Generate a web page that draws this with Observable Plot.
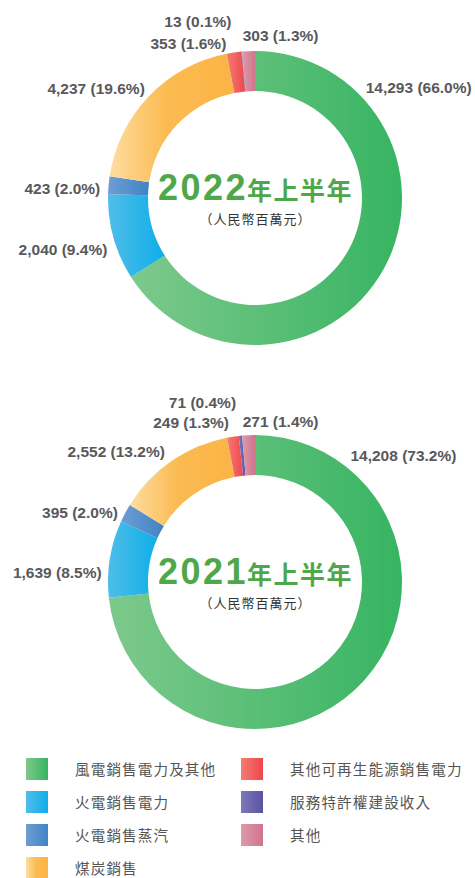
<!DOCTYPE html>
<html><head><meta charset="utf-8">
<script src="https://cdn.jsdelivr.net/npm/d3@7"></script>
<script src="https://cdn.jsdelivr.net/npm/@observablehq/plot@0.6"></script>
<style>
html,body{margin:0;padding:0;background:#fff;}
body{width:475px;font-family:"Liberation Sans","Noto Sans CJK TC",sans-serif;overflow:hidden;}
#legend{position:relative;height:138px;}
.lg-item{position:absolute;height:22px;}
.lg-sw{width:22px;height:22px;position:absolute;left:0;top:0;}
.lg-tx{position:absolute;top:11px;transform:translateY(-50%);line-height:1;white-space:nowrap;font-family:"Noto Sans CJK TC",sans-serif;font-size:14.6px;letter-spacing:1.1px;color:#555;}
</style></head><body>
<div id="c1"></div><div id="c2"></div><div id="legend"></div>
<script>
// ---- data ----
const categories = ["風電銷售電力及其他","火電銷售電力","火電銷售蒸汽","煤炭銷售","其他可再生能源銷售電力","服務特許權建設收入","其他"];
const values2022 = [14293, 2040, 423, 4237, 353, 13, 303];
const pct2022 = ["66.0", "9.4", "2.0", "19.6", "1.6", "0.1", "1.3"];
const values2021 = [14208, 1639, 395, 2552, 249, 71, 271];
const pct2021 = ["73.2", "8.5", "2.0", "13.2", "1.3", "0.4", "1.4"];
const titles = ["2022年上半年", "2021年上半年"];
const unitLabel = "（人民幣百萬元）";

// ---- styles ----
const gradStops = [
  [[0, "#7dc98c"], [1, "#37b462"]],
  [[0, "#50bde9"], [1, "#0eaee8"]],
  [[0, "#6e9dd3"], [1, "#3f84c5"]],
  [[0, "#fedda2"], [0.45, "#fbbb52"], [1, "#fbb445"]],
  [[0, "#f47d71"], [1, "#ef4550"]],
  [[0, "#7e79b9"], [1, "#5a53a3"]],
  [[0, "#dd9bac"], [1, "#d1738d"]]
];
const titleGreen = "#4ea84a";
const labelGray = "#58595b";
const INNER = 107 / 147;

// ---- layout (label nudges in px) ----
const layout1 = {cx: 255, cy: 198, R: 147, height: 365, tweaks: [
  {angle: 45, r: 1.06}, {dx: 2, dy: 10}, {dy: 4}, {dx: 2, dy: -2},
  {dx: -7}, {dx: -10, dy: -21}, {anchor: "start", dx: -6, dy: -7}
]};
const layout2 = {cx: 255, cy: 217, R: 147, height: 375, tweaks: [
  {angle: 37, r: 1.073}, {dy: 15}, {dy: 4}, {dx: -2, dy: -2},
  {dx: -3, dy: -5}, {dx: -4, dy: -24}, {anchor: "start", dx: -6, dy: -5}
]};

function addGradients(defs, prefix) {
  gradStops.forEach((stops, i) => {
    const lg = defs.append("linearGradient").attr("id", `${prefix}-g${i}`)
      .attr("x1", 0).attr("x2", 1).attr("y1", 0).attr("y2", 0);
    stops.forEach(([o, c]) => lg.append("stop").attr("offset", o).attr("stop-color", c));
  });
}

function ringMark(arcs, prefix) {
  return (index, scales) => {
    const x0 = scales.x(0), y0 = scales.y(0), r = scales.x(1) - x0;
    const arc = d3.arc().innerRadius(r * INNER).outerRadius(r);
    const g = d3.create("svg:g");
    addGradients(g.append("defs"), prefix);
    g.selectAll("path").data(arcs).join("path")
      .attr("transform", `translate(${x0},${y0})`)
      .attr("d", arc)
      .attr("fill", d => `url(#${prefix}-g${d.index})`);
    return g.node();
  };
}

function donut(el, values, pct, title, L, prefix) {
  const rows = categories.map((c, i) => ({cat: c, value: values[i],
    label: `${d3.format(",")(values[i])} (${pct[i]}%)`}));
  const arcs = d3.pie().sort(null).value(d => d.value)(rows);
  const labels = arcs.map((a, k) => {
    const t = L.tweaks[k] || {};
    const ang = t.angle != null ? t.angle * Math.PI / 180 : (a.startAngle + a.endAngle) / 2;
    const r = t.r ?? 1.06;
    const anchor = t.anchor ?? (Math.sin(ang) >= 0 ? "start" : "end");
    return {label: a.data.label, anchor,
      x: Math.sin(ang) * r + (t.dx ?? 0) / L.R,
      y: Math.cos(ang) * r - (t.dy ?? 0) / L.R};
  });
  const labelOpts = {x: "x", y: "y", text: "label", fontSize: 15.5, fontWeight: "bold",
    fill: labelGray, fontFamily: "Liberation Sans, sans-serif"};
  const center = [{x: 0, y: 0}];
  const svg = Plot.plot({
    width: 475, height: L.height, margin: 0,
    style: {background: "transparent", overflow: "visible"},
    x: {domain: [-1, 1], range: [L.cx - L.R, L.cx + L.R], axis: null},
    y: {domain: [-1, 1], range: [L.cy + L.R, L.cy - L.R], axis: null},
    marks: [
      ringMark(arcs, prefix),
      Plot.text(labels.filter(d => d.anchor === "start"), {...labelOpts, textAnchor: "start"}),
      Plot.text(labels.filter(d => d.anchor === "end"), {...labelOpts, textAnchor: "end"}),
      Plot.text(center, {x: "x", y: "y", text: () => title, textAnchor: "middle", lineAnchor: "bottom",
        dy: 1, fontSize: 36, fontWeight: "bold", fill: titleGreen, fontFamily: "Liberation Sans, sans-serif"}),
      Plot.text(center, {x: "x", y: "y", text: () => unitLabel, textAnchor: "middle", dy: 21,
        fontSize: 13, fill: "#333", fontFamily: "Noto Sans CJK TC, sans-serif"})
    ]
  });
  // split title into digits + CJK part with different sizes
  d3.select(svg).selectAll("text").filter(function () { return this.textContent === title; })
    .each(function () {
      const t = d3.select(this);
      t.text("");
      t.append("tspan").attr("letter-spacing", 2.5).text(title.slice(0, 4));
      t.append("tspan").attr("font-size", 25).attr("letter-spacing", 1.5)
        .attr("font-family", "Noto Sans CJK TC, sans-serif").attr("dx", -1).text(title.slice(4));
    });
  d3.select(svg).selectAll("text").filter(function () { return this.textContent === unitLabel; })
    .attr("letter-spacing", 1);
  document.getElementById(el).appendChild(svg);
}

donut("c1", values2022, pct2022, titles[0], layout1, "a");
donut("c2", values2021, pct2021, titles[1], layout2, "b");

// ---- legend ----
const leg = d3.select("#legend");
const defsSvg = leg.append("svg").attr("width", 0).attr("height", 0).style("position", "absolute");
addGradients(defsSvg.append("defs"), "lg");
categories.forEach((c, i) => {
  const col = i < 4 ? 0 : 1, row = i < 4 ? i : i - 4;
  const item = leg.append("div").attr("class", "lg-item")
    .style("left", (col ? 241 : 26) + "px").style("top", (17.5 + row * 33) + "px");
  item.append("svg").attr("class", "lg-sw").attr("width", 22).attr("height", 22)
    .append("rect").attr("width", 22).attr("height", 22).attr("fill", `url(#lg-g${i})`);
  item.append("div").attr("class", "lg-tx").style("left", "49px").text(c);
});
</script>
</body></html>
